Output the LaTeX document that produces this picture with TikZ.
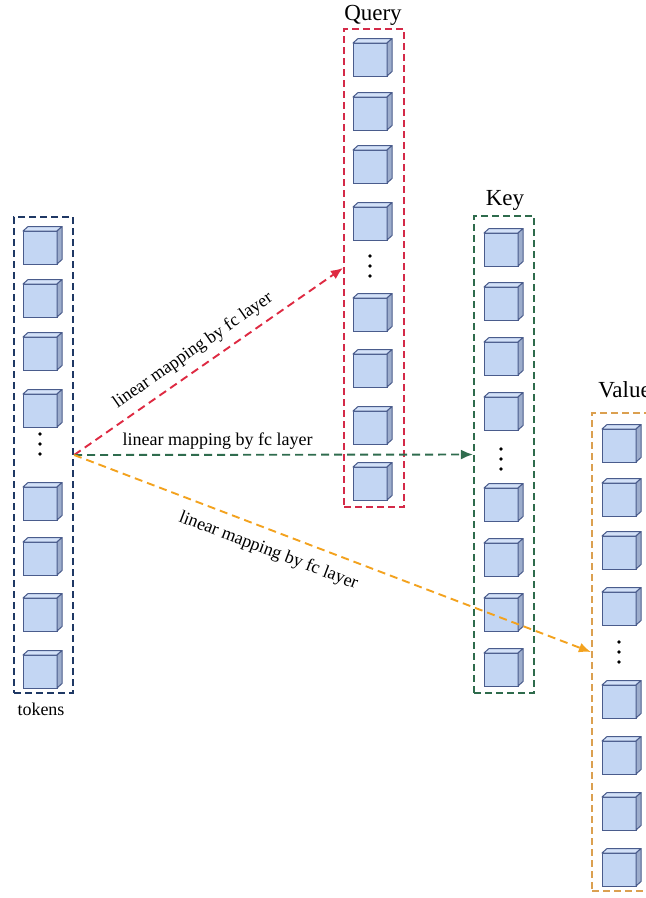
\documentclass[tikz,border=0pt]{standalone}
\usepackage{fontspec}
\setmainfont{Liberation Serif}
\usetikzlibrary{arrows.meta}
\definecolor{tokc}{HTML}{1F3864}
\definecolor{qc}{HTML}{D42A48}
\definecolor{kc}{HTML}{2E6B4C}
\definecolor{vc}{HTML}{DBA050}
\definecolor{redarr}{HTML}{DE2A42}
\definecolor{grnarr}{HTML}{2F6C4E}
\definecolor{orarr}{HTML}{F3A21E}
\definecolor{cubefrontc}{HTML}{C3D6F3}
\definecolor{cubetopc}{HTML}{D3E1F8}
\definecolor{cubesidec}{HTML}{9DADCC}
\definecolor{cubeedgec}{HTML}{4A5C8C}
\tikzset{
  cubefront/.style={rectangle, draw=cubeedgec, fill=cubefrontc, line width=1pt,
    minimum width=34pt, minimum height=33pt, inner sep=0pt, outer sep=0pt},
  cubeedge/.style={draw=cubeedgec, line width=1pt, line join=round},
  colbox/.style={rectangle, line width=2.2pt, dash pattern=on 7pt off 4pt,
    minimum width=59pt, inner sep=0pt},
  dotn/.style={circle, fill=black, inner sep=0pt, minimum size=3.6pt},
  arr/.style={line width=1.9pt, dash pattern=on 8pt off 5pt,
    -{Latex[length=12pt,width=10pt]}},
  title/.style={font=\fontsize{23}{26}\selectfont, anchor=base},
  lbl/.style={font=\fontsize{18}{20}\selectfont, text=black}
}
\newcommand{\cubeat}[3]{%
  \node[cubefront] (#1) at (#2+17,#3+16.5) {};
  \draw[cubeedge, fill=cubetopc] (#1.north west) -- ++(5,-4.5) -- ++(34,0) -- (#1.north east) -- cycle;
  \draw[cubeedge, fill=cubesidec] (#1.north east) -- ++(5,-4.5) -- ++(0,33) -- (#1.south east) -- cycle;
}
\begin{document}
\begin{tikzpicture}[x=1pt,y=-1pt]
\useasboundingbox (0,0) rectangle (646,898);
% column boxes
\node[colbox, draw=tokc, minimum height=476pt] (tokens) at (43.5,455) {};
\node[colbox, draw=qc, minimum width=60pt, minimum height=478pt] (query) at (374,268) {};
\node[colbox, draw=kc, minimum width=60pt, minimum height=477pt] (key) at (504,454.5) {};
\node[colbox, draw=vc, minimum width=60pt, minimum height=478pt] (value) at (622,652) {};
% titles
\node[title] (qt) at (373,20) {Query};
\node[title] (kt) at (505,205) {Key};
\node[title] (vt) at (624.5,397) {Value};
\node[lbl, anchor=base] (tt) at (41,715) {tokens};
% token cubes
\cubeat{t1}{23}{231}\cubeat{t2}{23}{284}\cubeat{t3}{23}{337}\cubeat{t4}{23}{394}
\cubeat{t5}{23}{487}\cubeat{t6}{23}{542}\cubeat{t7}{23}{598}\cubeat{t8}{23}{655}
\node[dotn] (td1) at (40,434) {};\node[dotn] (td2) at (40,444) {};\node[dotn] (td3) at (40,454) {};
% query cubes
\cubeat{q1}{353}{43}\cubeat{q2}{353}{97}\cubeat{q3}{353}{150}\cubeat{q4}{353}{207}
\cubeat{q5}{353}{298}\cubeat{q6}{353}{354}\cubeat{q7}{353}{411}\cubeat{q8}{353}{467}
\node[dotn] (qd1) at (370,256) {};\node[dotn] (qd2) at (370,266) {};\node[dotn] (qd3) at (370,276) {};
% key cubes
\cubeat{k1}{484}{233}\cubeat{k2}{484}{287}\cubeat{k3}{484}{342}\cubeat{k4}{484}{397}
\cubeat{k5}{484}{488}\cubeat{k6}{484}{543}\cubeat{k7}{484}{598}\cubeat{k8}{484}{653}
\node[dotn] (kd1) at (501,449) {};\node[dotn] (kd2) at (501,459) {};\node[dotn] (kd3) at (501,469) {};
% value cubes
\cubeat{v1}{602}{429}\cubeat{v2}{602}{483}\cubeat{v3}{602}{536}\cubeat{v4}{602}{592}
\cubeat{v5}{602}{685}\cubeat{v6}{602}{741}\cubeat{v7}{602}{797}\cubeat{v8}{602}{853}
\node[dotn] (vd1) at (619,642) {};\node[dotn] (vd2) at (619,652) {};\node[dotn] (vd3) at (619,662) {};
% arrows
\draw[arr, draw=redarr] (tokens.east) -- (query.west)
  node[lbl, sloped, pos=0.48, above=5pt] (lq) {linear mapping by fc layer};
\draw[arr, draw=grnarr] (tokens.east) -- (key.west)
  node[lbl, pos=0.36, above=1pt] (lk) {linear mapping by fc layer};
\draw[arr, draw=orarr] (tokens.east) -- (value.west)
  node[lbl, sloped, pos=0.39, below=8pt] (lv) {linear mapping by fc layer};
\end{tikzpicture}
\end{document}
